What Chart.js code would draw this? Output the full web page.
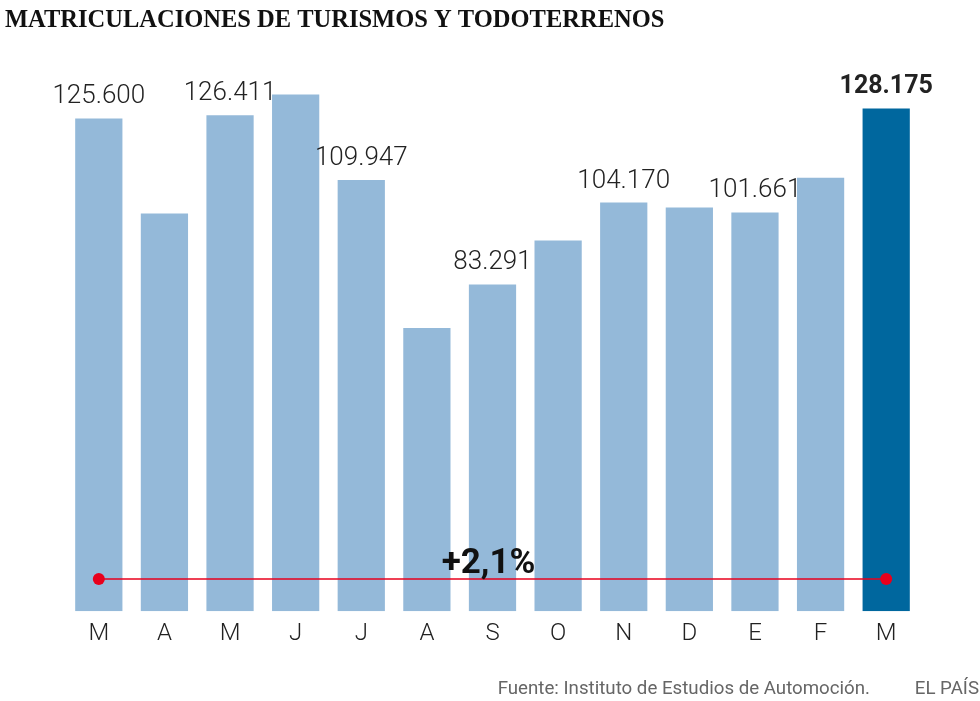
<!DOCTYPE html>
<html><head><meta charset="utf-8">
<script src="https://cdn.jsdelivr.net/npm/chart.js@4"></script>
<style>body{margin:0;background:#fff}#w{width:980px;height:701px;position:relative}</style>
</head><body><div id="w"><canvas id="c"></canvas></div>
<script>
const categories=["M","A","M","J","J","A","S","O","N","D","E","F","M"];
const values=[125600,101400,126411,131700,109947,72200,83291,94500,104170,102900,101661,110500,128175];
const labels=["125.600","","126.411","","109.947","","83.291","","104.170","","101.661","","128.175"];
const changeLabel="+2,1%";
const lineValue=8200;
const colors=values.map((v,i)=>i===values.length-1?"#00679e":"#94b9d9");
const lineData=values.map((v,i)=>(i===0||i===values.length-1)?lineValue:null);
const textPlugin={id:"t",afterDatasetsDraw(ch){
 const c=ch.ctx,m=ch.getDatasetMeta(1);
 c.save();c.textAlign="center";c.textBaseline="alphabetic";
 m.data.forEach((b,i)=>{if(!labels[i])return;
  const last=i===values.length-1;
  c.font=(last?"bold 25px ":"300 26px ")+"Roboto";c.fillStyle="#222";
  c.fillText(labels[i],b.x,b.y-15);});
 const a=ch.scales.x.getPixelForValue(0),z=ch.scales.x.getPixelForValue(12),y=ch.scales.y.getPixelForValue(lineValue);
 c.font="bold 35px Roboto";c.fillStyle="#111";c.fillText(changeLabel,(a+z)/2-4,y-6);
 c.textAlign="left";c.font="bold 24.5px 'Liberation Serif'";c.fillText("MATRICULACIONES DE TURISMOS Y TODOTERRENOS",5,27);
 c.font="18.7px Roboto";c.fillStyle="#666";c.textAlign="right";
 c.fillText("Fuente: Instituto de Estudios de Automoción.",870,694);
 c.fillText("EL PAÍS",979,694);
 c.restore();}};
new Chart(document.getElementById("c"),{
 data:{labels:categories,datasets:[
  {type:"line",data:lineData,spanGaps:true,borderColor:"#e8001c",borderWidth:1.5,pointRadius:6,pointBackgroundColor:"#e8001c",pointBorderWidth:0,order:0},
  {type:"bar",data:values,backgroundColor:colors,categoryPercentage:0.72,barPercentage:1,order:1}]},
 options:{responsive:true,maintainAspectRatio:false,animation:false,
  layout:{padding:{top:62,left:66,right:61,bottom:53}},
  plugins:{legend:{display:false},tooltip:{enabled:false}},
  scales:{y:{display:false,min:0,max:140000},
   x:{grid:{display:false},border:{display:false},ticks:{color:"#222",font:{family:"Roboto",size:24,weight:"300"},padding:0}}}},
 plugins:[textPlugin]});
</script></body></html>
